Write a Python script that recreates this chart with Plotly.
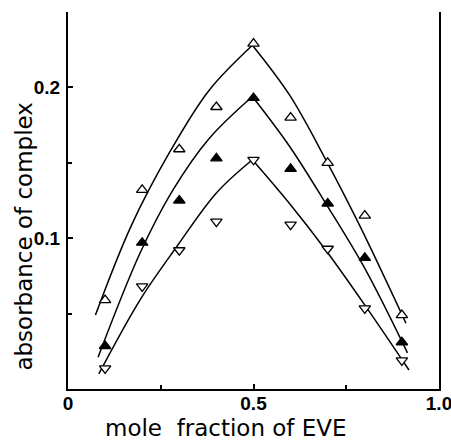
import plotly.graph_objects as go

# ---- data ----
mole_fraction = [0.1, 0.2, 0.3, 0.4, 0.5, 0.6, 0.7, 0.8, 0.9]
abs_open_up = [0.059, 0.132, 0.159, 0.187, 0.229, 0.180, 0.150, 0.115, 0.049]
abs_filled_up = [0.0285, 0.097, 0.125, 0.153, 0.193, 0.146, 0.123, 0.087, 0.031]
abs_open_down = [0.0137, 0.068, 0.092, 0.111, 0.152, 0.109, 0.093, 0.0535, 0.019]

# fitted curves (left and right branches meet at the peak)
top_left_x = [0.074, 0.17, 0.274, 0.38, 0.497]
top_left_y = [0.049, 0.108, 0.157, 0.198, 0.228]
top_right_x = [0.497, 0.597, 0.695, 0.787, 0.911]
top_right_y = [0.228, 0.195, 0.152, 0.108, 0.0436]

mid_left_x = [0.081, 0.194, 0.283, 0.38, 0.497]
mid_left_y = [0.021, 0.090, 0.132, 0.166, 0.194]
mid_right_x = [0.497, 0.597, 0.695, 0.80, 0.915]
mid_right_y = [0.194, 0.161, 0.123, 0.080, 0.024]

bot_left_x = [0.083, 0.194, 0.292, 0.40, 0.497]
bot_left_y = [0.010, 0.059, 0.094, 0.130, 0.152]
bot_right_x = [0.497, 0.597, 0.695, 0.803, 0.919]
bot_right_y = [0.152, 0.123, 0.092, 0.0546, 0.0126]

x_tick_vals = [0, 0.5, 1.0]
x_tick_text = ["0", "0.5", "1.0"]
y_tick_vals = [0.1, 0.2]
y_tick_text = ["0.1", "0.2"]

x_title = "mole  fraction of EVE"
y_title = "absorbance of complex"

fig = go.Figure()

line_style = dict(color="black", width=1.5, shape="spline", smoothing=1.0)
for xs, ys in [(top_left_x, top_left_y), (top_right_x, top_right_y),
               (mid_left_x, mid_left_y), (mid_right_x, mid_right_y),
               (bot_left_x, bot_left_y), (bot_right_x, bot_right_y)]:
    fig.add_trace(go.Scatter(x=xs, y=ys, mode="lines", line=line_style,
                             showlegend=False, hoverinfo="skip"))

marker_line = dict(color="black", width=1.3)
fig.add_trace(go.Scatter(x=mole_fraction, y=abs_open_up, mode="markers",
                         marker=dict(symbol="triangle-up", size=10, color="white", line=marker_line),
                         showlegend=False))
fig.add_trace(go.Scatter(x=mole_fraction, y=abs_filled_up, mode="markers",
                         marker=dict(symbol="triangle-up", size=10, color="black", line=marker_line),
                         showlegend=False))
fig.add_trace(go.Scatter(x=mole_fraction, y=abs_open_down, mode="markers",
                         marker=dict(symbol="triangle-down", size=10, color="white", line=marker_line),
                         showlegend=False))

tick_font = dict(family="Liberation Sans Narrow, Liberation Sans, Arial", size=19,
                 color="black", weight="bold")

fig.update_layout(
    width=451, height=440,
    margin=dict(l=68, r=12, t=12, b=51, autoexpand=False),
    plot_bgcolor="white", paper_bgcolor="white",
    xaxis=dict(range=[0, 1.0], showgrid=False, zeroline=False, automargin=False,
               showline=True, linecolor="black", linewidth=2, mirror=False,
               tickmode="array", tickvals=x_tick_vals, ticktext=x_tick_text,
               ticks="inside", ticklen=5, tickwidth=1.5, tickcolor="black",
               minor=dict(tickmode="linear", tick0=0, dtick=0.25, ticks="inside",
                          ticklen=4, tickwidth=1.5, tickcolor="black"),
               tickfont=tick_font, ticklabelstandoff=-4, ticklabeloverflow="allow"),
    yaxis=dict(range=[0, 0.25], showgrid=False, zeroline=False, automargin=False,
               showline=True, linecolor="black", linewidth=2, mirror=True,
               tickmode="array", tickvals=y_tick_vals, ticktext=y_tick_text,
               ticks="inside", ticklen=5, tickwidth=1.5, tickcolor="black",
               minor=dict(tickmode="linear", tick0=0, dtick=0.05, ticks="inside",
                          ticklen=4, tickwidth=1.5, tickcolor="black"),
               tickfont=tick_font, ticklabelstandoff=2, ticklabeloverflow="allow"),
    annotations=[
        dict(text=x_title, xref="paper", yref="paper", x=0.427, y=-0.103,
             xanchor="center", yanchor="middle", showarrow=False,
             font=dict(family="DejaVu Sans", size=23, color="black")),
        dict(text=y_title, xref="paper", yref="paper", x=-0.121, y=0.4045,
             xanchor="center", yanchor="middle", showarrow=False, textangle=-90,
             font=dict(family="DejaVu Sans", size=23, color="black")),
    ],
)

fig.write_html("out.html", config={"displayModeBar": False},
               post_script="document.body.style.margin='0';document.body.style.overflow='hidden';")
